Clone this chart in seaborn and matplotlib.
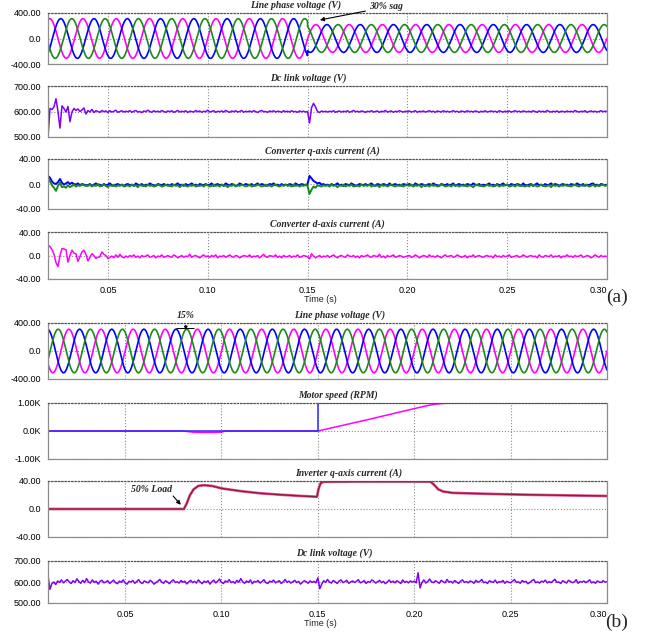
import numpy as np
import pandas as pd
import matplotlib
matplotlib.use('Agg')
import matplotlib.pyplot as plt
import seaborn as sns

sns.set_theme(style='white')
plt.rcParams['font.family'] = ['Liberation Sans', 'DejaVu Sans']
SERIF = ['Liberation Serif', 'DejaVu Serif']

# ---------------- data ----------------
# 3-phase line voltage: 60 Hz, peak values before / after the sag
line_freq = 60
phase_names = ['A', 'B', 'C']
phase_shift_deg = [0, -120, 120]
phase_colors = ['#ff00ff', '#0000ff', '#1a8a1a']
peak_a = [311, 218]          # 30% sag at 0.15 s
sag_time = 0.15
peak_b = [311, 311]

# (a) dc link voltage, one value per ms from 0.020 s to 0.300 s
dc_a = [500, 612, 608, 618, 650, 600, 535, 622, 612, 598, 620, 560, 598, 612, 604, 610, 600, 606, 614, 590,
        604, 598, 608, 596, 603, 600, 597, 604, 599, 602, 596, 603, 598, 601, 605, 597, 600, 603, 598, 601,
        599, 603, 597, 601, 604, 598, 600, 596, 602, 599, 605, 600, 597, 603, 599, 601, 598, 604, 600, 597,
        602, 599, 603, 597, 600, 604, 598, 601, 599, 603, 596, 601, 600, 598, 604, 599, 602, 597, 601, 599,
        605, 598, 600, 603, 597, 601, 599, 602, 598, 604, 600, 597, 602, 599, 603, 598, 600, 604, 597, 601,
        599, 602, 598, 603, 600, 596, 601, 604, 599, 600, 597, 602, 599, 603, 598, 601, 600, 597, 603, 599,
        601, 598, 603, 599, 600, 597, 602, 599, 601, 598, 600, 555, 615, 632, 618, 600, 596, 602, 599, 601,
        598, 601, 599, 603, 597, 600, 602, 598, 601, 599, 603, 597, 600, 604, 599, 601, 598, 602, 600, 597,
        601, 599, 603, 598, 600, 602, 597, 601, 599, 604, 598, 600, 602, 597, 601, 599, 603, 600, 598, 601,
        599, 602, 598, 600, 603, 597, 601, 599, 602, 598, 600, 603, 599, 601, 597, 602, 600, 598, 603, 599,
        601, 598, 600, 603, 599, 601, 597, 602, 600, 598, 603, 599, 601, 598, 602, 600, 597, 601, 599, 603,
        598, 600, 602, 599, 601, 597, 603, 600, 598, 601, 599, 602, 598, 600, 603, 599, 601, 598, 602, 600,
        599, 601, 598, 603, 600, 597, 602, 599, 601, 598, 604, 600, 598, 601, 599, 602, 597, 601, 600, 598,
        602, 599, 601, 598, 604, 600, 598, 601, 599, 603, 597, 600, 602, 599, 601, 598, 600, 603, 599, 601,
        600]

# (a) converter q-axis currents (two traces), one value per ms
iq_blue_a = [13, 10, 4, 1, 0, 3, 8, 2, -1, 1, 3, 0, 2, 0, -1, 1, -2, 0, -1, -2,
             -2, 0, -3, -1, 1, -2, -1, -3, 0, -2, -1, 1, -2, -3, -1, 0, -2, -1, -3, -1,
             0, -2, -1, -3, 1, -1, -2, 0, -3, -1, -2, 1, -1, -2, -3, 0, -1, -2, 0, -2,
             -1, -3, 0, -2, -1, 1, -2, -1, -3, 0, -2, -1, 1, -2, -1, -3, 0, -1, -2, 0,
             -2, -1, 1, -3, -1, 0, -2, -1, -3, 1, -1, -2, 0, -1, -3, -2, 1, -1, -2, 0,
             -1, -2, 0, -3, -1, 1, -2, 0, -1, -3, -2, 0, -1, 1, -2, -1, -3, 0, -2, -1,
             -2, 0, -1, -3, 1, -1, -2, 0, -1, -2, 0, 13, 9, 5, 3, 1, 2, -1, 0, -2,
             -1, -3, 0, -2, -1, 1, -2, -1, -3, 0, -1, -2, 1, -1, -3, -2, 0, -1, -2, 0,
             -2, -1, 1, -2, -3, 0, -1, -2, 0, -1, -3, 1, -2, -1, 0, -2, -1, -3, 0, -1,
             -1, 0, -2, -3, 1, -1, -2, 0, -1, -3, -1, 0, -2, 1, -1, -2, -3, 0, -1, -2,
             0, -2, -1, 1, -3, -1, 0, -2, -1, -3, 0, -1, -2, 1, -1, -2, 0, -3, -1, -2,
             -1, 1, -2, -1, -3, 0, -2, -1, 1, -2, -1, -3, 0, -1, -2, 0, -1, -3, 1, -2,
             -2, -1, 0, -3, -1, 1, -2, -1, -3, 0, -2, -1, 1, -2, 0, -1, -3, -1, 0, -2,
             -1, -3, 0, -1, -2, 1, -1, -2, 0, -3, -1, -2, 0, 1, -2, -1, -3, 0, -1, -2,
             -1]
iq_green_a = [9, 4, -2, -6, -11, -3, 2, -5, -4, -6, -2, -5, -3, -1, -4, -2, -3, -1, -2, -3,
              -3, -1, -4, -2, -3, 0, -4, -2, -1, -3, -5, -2, -3, -1, -4, -2, -3, -1, -4, -3,
              -2, -4, -1, -3, -2, -5, -1, -3, -2, -4, -1, -3, -2, -4, -3, -1, -2, -4, -3, -1,
              -3, -2, -4, -1, -3, -2, -5, -2, -1, -3, -4, -2, -3, -1, -4, -2, -3, -2, -4, -1,
              -2, -4, -3, -1, -3, -2, -4, -1, -3, -2, -5, -2, -3, -1, -4, -2, -3, -1, -2, -4,
              -3, -1, -4, -2, -3, -1, -2, -4, -3, -1, -3, -2, -4, -2, -1, -3, -4, -2, -3, -1,
              -3, -2, -4, -1, -3, -2, -4, -2, -3, -1, -3, -16, -9, -4, -6, -2, -3, -4, -2, -3,
              -2, -4, -1, -3, -2, -5, -2, -3, -1, -4, -2, -3, -1, -4, -3, -2, -4, -1, -3, -2,
              -3, -1, -4, -2, -3, -2, -5, -1, -3, -2, -4, -2, -1, -3, -4, -2, -3, -1, -4, -2,
              -2, -3, -1, -4, -2, -3, -1, -5, -2, -3, -2, -4, -1, -3, -2, -4, -3, -1, -2, -4,
              -3, -2, -4, -1, -3, -2, -4, -2, -3, -1, -4, -2, -3, -5, -2, -1, -3, -2, -4, -3,
              -1, -3, -2, -4, -3, -1, -4, -2, -3, -2, -1, -4, -3, -2, -4, -1, -3, -2, -3, -4,
              -2, -4, -1, -3, -2, -4, -3, -1, -2, -4, -3, -2, -5, -1, -3, -2, -4, -2, -3, -1,
              -3, -2, -4, -2, -1, -3, -4, -2, -3, -1, -2, -4, -3, -1, -4, -2, -3, -2, -1, -3,
              -2]

# (a) converter d-axis current, one value per ms
id_a = [18, 15, 10, 2, -12, -19, 0, 12, 11, 10, -11, 0, 9, 4, 3, -10, -2, 6, 9, 2,
        -9, -3, 3, 0, -5, -3, -2, 6, 2, 0, -5, -3, -1, -4, 1, -3, 2, -2, -4, -1,
        -3, 0, -2, 1, -3, -1, -4, 0, -2, -1, 1, -3, -2, 0, -4, -1, -2, 1, -3, -2,
        0, -2, -3, 1, -1, -4, -2, 0, -3, -1, -2, 2, -3, -1, 0, -2, -4, -1, 1, -2,
        -1, -3, 0, -2, 1, -4, -1, -2, 0, -3, -1, 1, -2, -3, 0, -1, -4, -2, 0, -1,
        -2, 1, -3, -1, -2, 0, -4, -1, 2, -2, -3, 0, -1, -2, 1, -3, -1, -4, 0, -2,
        -2, 0, -3, -1, -2, 1, -3, -2, 0, -1, -2, -6, 3, -1, -4, -2, 0, -3, -1, -2,
        0, -3, -1, 1, -2, -4, -1, 0, -2, -3, 1, -1, -2, 0, -3, -1, -4, 0, -2, -1,
        1, -2, -3, 0, -1, -2, 2, -3, -1, -4, 0, -2, -1, 1, -3, -2, 0, -1, -3, -2,
        -1, 0, -3, -2, 1, -1, -4, -2, 0, -1, -3, 1, -2, -1, -3, 0, -2, -4, -1, 1,
        -2, -1, 0, -3, -2, 1, -1, -3, -2, 0, -4, -1, -2, 1, -3, -1, 0, -2, -3, -1,
        0, -2, -1, -4, 1, -2, -1, -3, 0, -2, -1, 1, -3, -2, -1, 0, -3, -2, 1, -1,
        -3, -1, 0, -2, -1, -4, 1, -2, -3, 0, -1, -2, 1, -3, -1, -2, 0, -4, -1, -2,
        1, -2, -1, -3, 0, -2, -1, 1, -3, -2, 0, -1, -4, -2, 1, -1, -3, 0, -2, -1,
        -2]

# (b) motor speed: reference step and measured speed (time s, rpm)
speed_ref_t = [0.01, 0.15, 0.15, 0.30]
speed_ref_v = [0, 0, 1000, 1000]
speed_t = [0.01, 0.080, 0.085, 0.090, 0.095, 0.100, 0.102, 0.150, 0.176, 0.200, 0.205, 0.210, 0.215, 0.220, 0.250]
speed_v = [0, 0, -40, -50, -50, -40, 0, 0, 407, 800, 880, 950, 985, 1000, 1000]

# (b) inverter q-axis current (time s, A)
iq_inv_t = [0.010, 0.0805, 0.082, 0.0835, 0.0855, 0.088, 0.091, 0.095, 0.100, 0.110, 0.120, 0.130, 0.140,
            0.1495, 0.1505, 0.1515, 0.153, 0.170, 0.200, 0.2085, 0.2105, 0.2125, 0.2150, 0.220, 0.240,
            0.260, 0.280, 0.300]
iq_inv_v = [0, 0, 8, 19, 28, 33, 34, 33, 29.5, 25.5, 22.5, 20.5, 18.8,
            17.5, 30, 37, 38.8, 39.2, 39.2, 39, 34, 28, 25, 23, 21.5,
            20.3, 19.4, 18.6]

# (b) dc link voltage, one value per ms from 0.010 s to 0.300 s
dc_b = [630, 565, 592, 600, 588, 605, 598, 610, 596, 604, 612, 600, 593, 606, 598, 615, 602, 594, 608, 597,
        616, 600, 595, 610, 598, 604, 590, 603, 608, 596, 600, 606, 593, 601, 609, 597, 592, 604, 599, 610,
        596, 590, 603, 600, 607, 594, 602, 611, 598, 593, 605, 600, 596, 608, 601, 590, 597, 604, 612, 599,
        594, 606, 600, 592, 603, 610, 598, 601, 595, 607, 599, 604, 591, 600, 608, 597, 603, 595, 610, 600,
        592, 604, 598, 606, 590, 601, 609, 596, 603, 614, 598, 593, 605, 600, 611, 597, 602, 594, 608, 599,
        616, 601, 594, 605, 598, 610, 592, 603, 600, 607, 595, 602, 611, 597, 593, 604, 600, 609, 596, 601,
        606, 593, 600, 612, 598, 604, 595, 601, 608, 597, 603, 590, 599, 606, 601, 594, 605, 598, 603, 596,
        620, 568, 590, 606, 598, 612, 600, 595, 607, 601, 593, 604, 610, 597, 602, 608, 594, 600, 605, 598,
        603, 611, 596, 600, 607, 593, 602, 598, 610, 604, 595, 601, 608, 597, 603, 592, 600, 609, 598, 604,
        596, 606, 600, 593, 610, 598, 603, 596, 605, 600, 604, 596, 644, 572, 598, 610, 595, 602, 614, 600,
        597, 606, 600, 594, 608, 601, 596, 612, 599, 603, 595, 607, 600, 593, 604, 610, 598, 602, 596, 605,
        601, 594, 608, 599, 603, 612, 597, 600, 593, 606, 601, 598, 609, 595, 602, 600, 607, 594, 603, 599,
        596, 604, 611, 598, 601, 594, 607, 600, 603, 592, 598, 606, 612, 597, 601, 595, 604, 600, 609, 596,
        602, 597, 605, 613, 598, 600, 593, 606, 601, 595, 608, 603, 597, 600, 611, 594, 602, 599, 605, 597,
        603, 610, 596, 601, 594, 605, 600, 598, 606, 599, 602]

x_ticks = [0.05, 0.10, 0.15, 0.20, 0.25, 0.30]
x_tick_labels = ['0.05', '0.10', '0.15', '0.20', '0.25', '0.30']
volt_ticks = ['400.00', '0.0', '-400.00']
dc_ticks = ['700.00', '600.00', '500.00']
amp_ticks = ['40.00', '0.0', '-40.00']
speed_ticks = ['1.00K', '0.0K', '-1.00K']

VIOLET = '#7f00ff'
MAGENTA = '#ff00ff'
BLUE = '#0000ff'
GREEN = '#1a8a1a'

# ---------------- helpers ----------------
W, H = 651, 637


def panel(fig, top, bottom):
    return fig.add_axes([48 / W, 1 - bottom / H, 559 / W, (bottom - top) / H])


def style(ax, xlim, ylim, ylabels, title, title_cx, show_x):
    ax.set_xlim(xlim)
    ax.set_ylim(ylim)
    ax.set_xticks(x_ticks)
    ax.set_yticks([ylim[1], (ylim[0] + ylim[1]) / 2, ylim[0]])
    ax.set_yticklabels(ylabels, fontsize=6.5)
    ax.set_ylabel('')
    if show_x:
        ax.set_xticklabels(x_tick_labels, fontsize=6.5)
        ax.get_xticklabels()[-1].set_ha('right')
        ax.set_xlabel('Time (s)', fontsize=6.5, labelpad=1)
        ax.xaxis.set_label_coords((320 - 48) / 559, -0.33 if ylim[1] < 100 else -0.39)
    else:
        ax.set_xticklabels([])
        ax.set_xlabel('')
    ax.tick_params(length=0, pad=5, colors='black')
    ax.grid(True, ls=':', color='#8c8c8c', lw=0.8)
    for s in ax.spines.values():
        s.set_color('#8c8c8c')
        s.set_linewidth(0.9)
    ax.spines['top'].set_linestyle(':')
    ax.spines['top'].set_color('#555555')
    ax.annotate(title, xy=((title_cx - 48) / 559, 1), xycoords='axes fraction',
                xytext=(0, 2), textcoords='offset points', ha='center', va='bottom',
                fontsize=7, fontweight='bold', fontstyle='italic', family=SERIF)


def three_phase(ax, t0, t1, peaks):
    t = np.linspace(t0, t1, 3000)
    amp = np.where(t < sag_time, peaks[0], peaks[1])
    frames = []
    for name, sh in zip(phase_names, phase_shift_deg):
        v = amp * np.sin(2 * np.pi * line_freq * t + np.deg2rad(sh))
        frames.append(pd.DataFrame({'t': t, 'v': v, 'phase': name}))
    df = pd.concat(frames)
    sns.lineplot(data=df, x='t', y='v', hue='phase', palette=dict(zip(phase_names, phase_colors)),
                 estimator=None, sort=False, legend=False, lw=1.2, ax=ax)


def trace(ax, t, v, color, lw=1.0):
    sns.lineplot(x=np.asarray(t), y=np.asarray(v, dtype=float), color=color, lw=lw,
                 estimator=None, sort=False, legend=False, ax=ax)


def note(ax, text, xy, xytext):
    ax.annotate(text, xy=xy, xytext=xytext, textcoords='axes fraction', ha='center', va='center',
                fontsize=7, fontweight='bold', fontstyle='italic', family=SERIF)


fig = plt.figure(figsize=(W / 100, H / 100), dpi=100)

# ---------------- (a) ----------------
xa = (0.02, 0.30)
ax = panel(fig, 13, 64)
three_phase(ax, *xa, peak_a)
style(ax, xa, (-400, 400), volt_ticks, 'Line phase voltage (V)', 296, False)
note(ax, '30% sag', (0.2, 0), ((386 - 48) / 559, 1.12))
ax.annotate('', xy=(0.1562, 290), xytext=(0.1790, 430), annotation_clip=False,
            arrowprops=dict(arrowstyle='-|>', color='black', lw=0.8, mutation_scale=6,
                            shrinkA=0, shrinkB=0))

ax = panel(fig, 86, 137)
trace(ax, np.linspace(0.020, 0.300, len(dc_a)), dc_a, VIOLET, 1.1)
style(ax, xa, (500, 700), dc_ticks, 'Dc link voltage (V)', 308, False)

ax = panel(fig, 159, 209)
trace(ax, np.linspace(0.020, 0.300, len(iq_blue_a)), iq_blue_a, BLUE, 1.4)
trace(ax, np.linspace(0.020, 0.300, len(iq_green_a)), iq_green_a, GREEN, 1.4)
style(ax, xa, (-40, 40), amp_ticks, 'Converter q-axis current (A)', 322, False)

ax = panel(fig, 232, 279)
trace(ax, np.linspace(0.020, 0.300, len(id_a)), id_a, MAGENTA, 1.1)
style(ax, xa, (-40, 40), amp_ticks, 'Converter d-axis current (A)', 327, True)
fig.text(617 / W, 1 - 297 / H, '(a)', family=SERIF, fontsize=14, ha='center', va='center')

# ---------------- (b) ----------------
xb = (0.01, 0.30)
ax = panel(fig, 323, 379)
three_phase(ax, *xb, peak_b)
style(ax, xb, (-400, 400), volt_ticks, 'Line phase voltage (V)', 340, False)
ax.hlines(330, 0.0765, 0.0860, color='black', lw=0.7)
note(ax, '15%', (0.08, 0), ((186 - 49) / 558, 1.14))
ax.annotate('', xy=(0.0815, 300), xytext=(0.0815, 370),
            arrowprops=dict(arrowstyle='-|>', color='black', lw=0.7, mutation_scale=5,
                            shrinkA=0, shrinkB=0))

ax = panel(fig, 403, 459)
trace(ax, speed_t, speed_v, MAGENTA, 1.1)
trace(ax, speed_ref_t, speed_ref_v, '#2b2bff', 1.1)
style(ax, xb, (-1000, 1000), speed_ticks, 'Motor speed (RPM)', 338, False)

ax = panel(fig, 481, 537)
trace(ax, iq_inv_t, iq_inv_v, '#e8609a', 2.0)
trace(ax, iq_inv_t, iq_inv_v, '#8e1a3c', 1.0)
style(ax, xb, (-40, 40), amp_ticks, 'Inverter q-axis current (A)', 349, False)
note(ax, '50% Load', (0.05, 0), ((152 - 49) / 558, 0.857))
ax.annotate('', xy=(0.0789, 6), xytext=(0.0749, 18.6),
            arrowprops=dict(arrowstyle='-|>', color='black', lw=0.8, mutation_scale=6,
                            shrinkA=0, shrinkB=0))

ax = panel(fig, 561, 603)
trace(ax, np.linspace(0.010, 0.300, len(dc_b)), dc_b, VIOLET, 1.1)
style(ax, xb, (500, 700), dc_ticks, 'Dc link voltage (V)', 334, True)
fig.text(617 / W, 1 - 622 / H, '(b)', family=SERIF, fontsize=14, ha='center', va='center')

plt.savefig('out.png', dpi=100)
